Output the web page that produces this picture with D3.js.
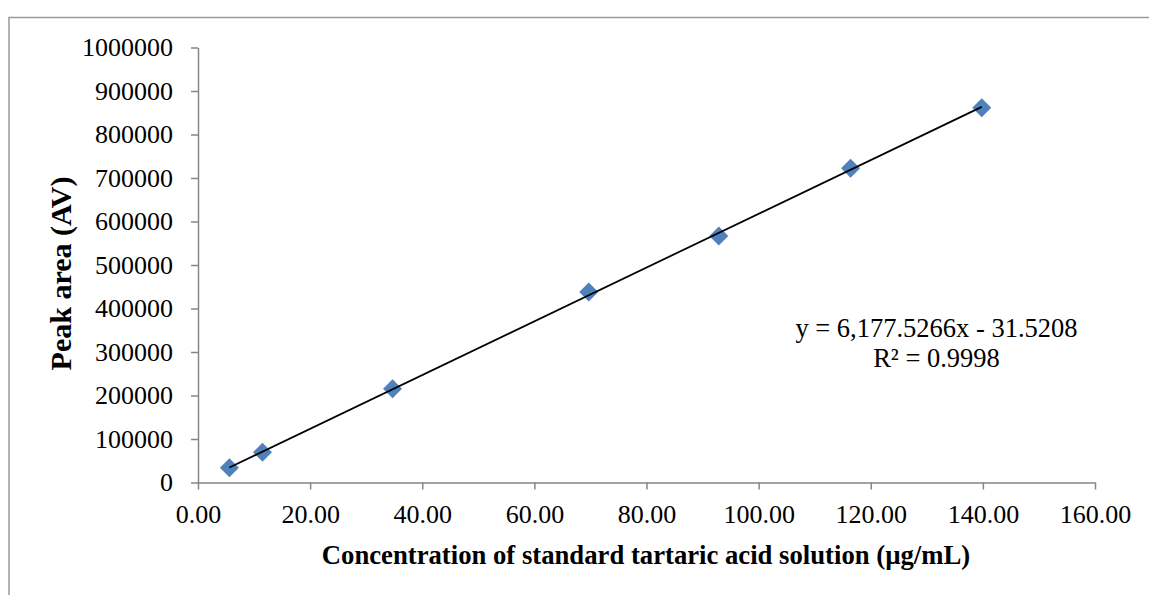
<!DOCTYPE html>
<html>
<head>
<meta charset="utf-8">
<script src="https://cdn.jsdelivr.net/npm/d3@7"></script>
<style>
  html, body { margin: 0; padding: 0; background: #fff; }
  svg { display: block; }
  text { font-family: "Liberation Serif", "Times New Roman", serif; fill: #000; }
</style>
</head>
<body>
<svg id="chart" width="1149" height="595"></svg>
<script>
// Calibration data: standard tartaric acid concentration vs. peak area
const concentration = [5.6, 11.5, 34.7, 69.7, 92.9, 116.4, 139.8];
const peakArea = [34000, 69400, 215600, 437900, 566700, 722300, 861600];

// Linear fit reported for the calibration
const slope = 6177.5266;
const intercept = -31.5208;
const rSquared = 0.9998;

const xTicks = [0, 20, 40, 60, 80, 100, 120, 140, 160];
const yTicks = [0, 100000, 200000, 300000, 400000, 500000, 600000, 700000, 800000, 900000, 1000000];

const xTitle = "Concentration of standard tartaric acid solution (\u00b5g/mL)";
const yTitle = "Peak area (AV)";

const svg = d3.select("#chart");
const W = 1149, H = 595;
const plot = { left: 198, right: 1095, top: 47.5, bottom: 482.5 };

// Outer chart frame (top and left edges visible)
svg.append("path")
  .attr("d", `M9,${H} L9,17.5 L${W},17.5`)
  .attr("fill", "none")
  .attr("stroke", "#9a9a9a")
  .attr("stroke-width", 1.5);

const x = d3.scaleLinear().domain([0, 160]).range([plot.left, plot.right]);
const y = d3.scaleLinear().domain([0, 1000000]).range([plot.bottom, plot.top]);

const axisColor = "#868686";

// X axis
const gx = svg.append("g")
  .attr("transform", `translate(0,${plot.bottom})`)
  .call(d3.axisBottom(x).tickValues(xTicks).tickFormat(d3.format(".2f")).tickSizeInner(7).tickSizeOuter(0).tickPadding(15));
gx.select(".domain").attr("stroke", axisColor).attr("stroke-width", 1.5);
gx.selectAll(".tick line").attr("stroke", axisColor).attr("stroke-width", 1.5);
gx.selectAll(".tick text").attr("font-size", 26).attr("font-family", "Liberation Serif").attr("fill", "#000");

// Y axis
const gy = svg.append("g")
  .attr("transform", `translate(${plot.left},0)`)
  .call(d3.axisLeft(y).tickValues(yTicks).tickFormat(d3.format("d")).tickSizeInner(7).tickSizeOuter(0).tickPadding(18));
gy.select(".domain").attr("stroke", axisColor).attr("stroke-width", 1.5);
gy.selectAll(".tick line").attr("stroke", axisColor).attr("stroke-width", 1.5);
gy.selectAll(".tick text").attr("font-size", 26).attr("font-family", "Liberation Serif").attr("fill", "#000");

// Data markers (diamonds)
const diamond = d3.symbol().type(d3.symbolSquare).size(180);
svg.append("g").selectAll("path")
  .data(concentration.map((c, i) => ({ c, a: peakArea[i] })))
  .join("path")
  .attr("d", diamond)
  .attr("transform", d => `translate(${x(d.c)},${y(d.a)}) rotate(45)`)
  .attr("fill", "#4f81bd");

// Linear trendline across the measured range
const xMin = d3.min(concentration), xMax = d3.max(concentration);
svg.append("line")
  .attr("x1", x(xMin)).attr("y1", y(slope * xMin + intercept))
  .attr("x2", x(xMax)).attr("y2", y(slope * xMax + intercept))
  .attr("stroke", "#000")
  .attr("stroke-width", 1.75);

// Equation and R² label
const fmtSlope = d3.format(",.4f");
svg.append("text")
  .attr("x", 936.5).attr("y", 337)
  .attr("text-anchor", "middle")
  .attr("font-size", 26.5)
  .text(`y = ${fmtSlope(slope)}x - ${Math.abs(intercept).toFixed(4)}`);
svg.append("text")
  .attr("x", 936.5).attr("y", 367)
  .attr("text-anchor", "middle")
  .attr("font-size", 26.5)
  .text(`R\u00b2 = ${rSquared.toFixed(4)}`);

// Axis titles
svg.append("text")
  .attr("x", 646).attr("y", 564)
  .attr("text-anchor", "middle")
  .attr("font-size", 26.7)
  .attr("font-weight", "bold")
  .text(xTitle);

svg.append("text")
  .attr("transform", "translate(71,273.5) rotate(-90)")
  .attr("text-anchor", "middle")
  .attr("font-size", 30)
  .attr("font-weight", "bold")
  .text(yTitle);
</script>
</body>
</html>
